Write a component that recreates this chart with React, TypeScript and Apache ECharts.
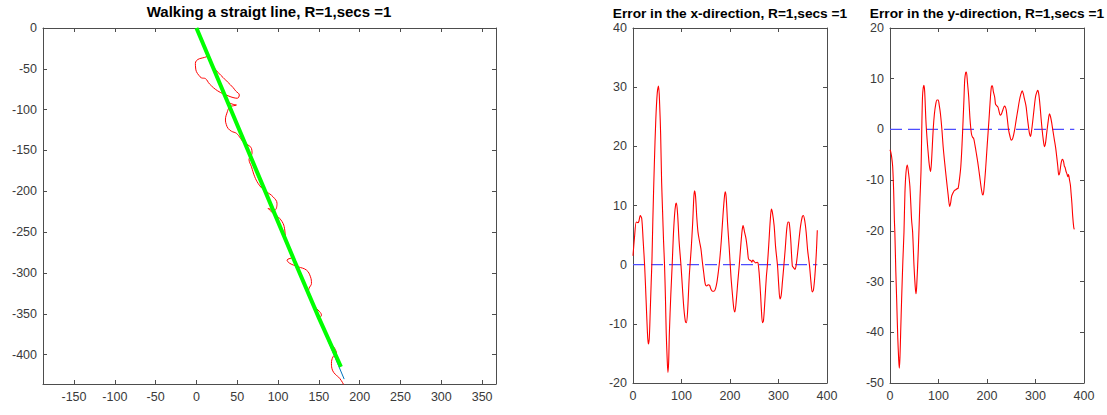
import React, { useEffect, useRef } from 'react';
import * as echarts from 'echarts';

const FONT = '"Liberation Sans", Arial, Helvetica, sans-serif';
const AXIS = '#4d4d4d';
const LABEL = '#3a3a3a';

// ---- titles ----
const titleWalk = 'Walking a straigt line, R=1,secs =1';
const titleErrX = 'Error in the x-direction, R=1,secs =1';
const titleErrY = 'Error in the y-direction, R=1,secs =1';

// ---- left plot: walked path (x, y) ----
const walkX = [-150, -100, -50, 0, 50, 100, 150, 200, 250, 300, 350];
const walkY = [0, -50, -100, -150, -200, -250, -300, -350, -400];
const truePath = [[0, 0], [181, -430]];
const estimatedPath = [[0, 0], [40, -95], [80, -190], [120, -285], [150, -355], [177, -415]];
const measuredPath = [
  [0, 0], [6, -15], [12, -28], [15, -33], [10, -36], [4, -37.5], [0, -40], [-1.3, -43.5], [-1, -49],
  [0, -53.5], [3, -58], [6, -61], [11, -62], [16, -68.5], [26, -77], [38.7, -83], [46, -85.5],
  [50.2, -86], [52.5, -82], [48, -77], [44.9, -73], [38, -66], [32.6, -60.6], [27, -55], [22.4, -49.5],
  [18.4, -44.5], [25, -60], [33, -78], [40, -91], [45, -93.5], [49, -94.3], [44, -95.5], [40.8, -96.4],
  [37.9, -102.5], [35.5, -112.7], [36.5, -118], [38.7, -122.9], [43, -126.5], [49, -129], [54, -135],
  [57.1, -139.3], [63.2, -143.3], [67.4, -147.4], [68.1, -153.5], [64.4, -160.8], [67.4, -169.9],
  [71.4, -182.2], [75.5, -190.2], [80, -196], [85.8, -200.5], [93.8, -206.7], [98.7, -214.8], [95.9, -223],
  [87.7, -220.9], [93, -226], [100, -231.2], [106.1, -239.3], [108.2, -247.5], [109, -255], [112, -268],
  [116.4, -276], [118.3, -280.2], [111, -284.2], [114.3, -288.2], [124.5, -292.4], [134.8, -296.5],
  [139.7, -304.7], [140.9, -312.8], [137.9, -318.9], [137, -325], [141, -335], [147, -343.4], [151, -347.5],
  [153.1, -351.6], [151, -355.6], [155, -365], [160, -378], [166, -388], [169.4, -392.4], [171.5, -398.5],
  [167.3, -402.7], [165.4, -410.8], [166.6, -419], [170, -424], [175.5, -429.1], [181.7, -439.4], [185, -448],
];

// ---- middle plot: error in x ----
const timeTicks = [0, 100, 200, 300, 400];
const errXTicks = [-20, -10, 0, 10, 20, 30, 40];
const errX = [
  [0, 1.5], [3, 4.5], [6.8, 7.2], [10, 7.1], [12, 7.3], [15, 8.3], [18, 7.8], [21, 4], [24, -0.2], [27, -6],
  [29.5, -11], [31.5, -13.4], [33.5, -12.5], [35.5, -8], [37.5, -3], [39, 0.5], [41, 7.8], [44, 17],
  [47, 24.5], [50, 29], [52.7, 30.2], [55, 27], [57, 22], [59, 14], [61, 9], [63, 4], [65, 0], [67, -6],
  [68.5, -11.5], [70.5, -16], [72, -18.2], [73.5, -16.5], [75, -11.5], [78, -5], [80.8, 0], [83, 4.5],
  [85.6, 8.3], [88, 10.2], [89.5, 10.4], [92, 8.5], [95, 4], [99, -0.2], [102, -4], [105, -7.5], [108, -9.6],
  [110, -9.8], [112.5, -8], [116, -2], [120, 2.7], [123, 7], [125.5, 11.5], [127, 12.5], [129, 11.5],
  [131.5, 8], [134, 5.5], [137, 4], [140, 2.7], [143, 0.5], [146, -1.5], [149, -3.3], [152, -3.6],
  [155, -3.4], [158, -3.5], [161, -4.2], [164, -4.5], [167, -4.5], [170, -4.1], [173, -3], [176, -1.2],
  [179, 1], [182, 4], [185, 7.7], [188, 11], [190, 12.3], [192, 11.5], [195, 7], [198.5, 2.7], [202, -2],
  [205, -5], [208, -7.5], [210, -8], [213, -6], [216, -3], [219, -0.2], [222, 3], [225, 5.8], [227, 6.6],
  [230, 5.5], [233, 4.4], [236, 2.5], [238, 1], [240, 0.8], [243, 0.7], [245, 0.4], [247, 0.8], [250, 0.5],
  [253, 0.3], [256.7, 0.4], [258, 0.2], [260, -1.3], [263, -5], [265, -8], [267, -9.8], [269, -9.5],
  [272, -6], [275, -2], [277, -0.2], [280, 3.5], [283, 7.5], [285.4, 9.4], [287.5, 8.8], [291, 6.6],
  [294, 3], [298, -0.2], [300.5, -3.5], [303, -5.8], [305.5, -5.2], [308, -3], [311, -0.2], [314, 2.8],
  [317, 6], [319.6, 7.2], [322, 7.1], [325, 4.5], [328.5, -0.2], [331, -0.5], [334, -0.8], [336, -0.3],
  [338.8, 1.5], [342, 4], [345.6, 6.6], [349, 8.1], [351, 8.3], [354, 7.5], [357, 5.5], [360, 2.5],
  [364, -0.2], [367, -3], [369.6, -4.6], [372, -4.3], [375, -1.9], [378, 2], [380, 5.8],
];
const zeroX = [[0, 0], [380, 0]];

// ---- right plot: error in y ----
const errYTicks = [-50, -40, -30, -20, -10, 0, 10, 20];
const errY = [
  [0, -4], [1.4, -4.4], [3.5, -5.5], [5.5, -7.3], [7.5, -12], [9, -17.8], [10, -20.3], [12, -28], [13.7, -33.4],
  [16, -41], [18, -45.5], [19.2, -47.1], [20.5, -45], [22, -40], [24, -33.4], [26.5, -26], [28.8, -20.3],
  [30.8, -12.5], [33, -8.5], [35.6, -7], [37.5, -8], [41, -11.2], [44.5, -17.8], [46.7, -20.3], [49.5, -26.9],
  [52, -31], [53.6, -32.4], [55, -31], [58.4, -23.6], [61.8, -13.8], [64, -8], [65.5, 0], [67, 6.4],
  [68.5, 8.2], [70, 8.7], [71.5, 7.5], [74, 1.8], [76.5, -2], [78.8, -4.7], [81, -7], [83.6, -8.3],
  [85.5, -6.5], [89, -0.1], [91.5, 3], [94.5, 5.1], [97, 5.8], [99.3, 5.8], [101.5, 4.8], [104, 3.1],
  [107, 0], [109.6, -3.4], [113, -6.8], [116.4, -9.9], [120, -13], [123, -15.2], [125, -14.5], [127, -13.2],
  [130, -12.5], [133, -12], [135.6, -11.9], [138, -11.7], [140.4, -11.6], [143, -10], [146, -7.3],
  [148.5, -3], [150.7, 1.8], [152.5, 6], [154, 9.7], [156, 11.2], [157.5, 11.3], [159.5, 9.5], [162.3, 6.4],
  [165, 2], [167.8, -0.8], [170, -1.5], [172.6, -1.8], [175, -3], [178, -4.7], [181, -6.5], [185, -9.3],
  [188, -11.5], [190.5, -12.8], [192, -12.9], [194, -11.5], [197, -8], [200.5, -3], [204, 1.8], [206.5, 5.5],
  [209, 8.4], [211, 8.6], [213, 7.5], [215.8, 6.4], [217.5, 5], [219, 4.8], [222.6, 4.4], [225, 3.5],
  [227.4, 2.8], [229.5, 3], [231.5, 3.5], [234, 4.2], [236, 4.6], [238, 4.4], [239.7, 3.8], [242, 2],
  [244.5, -0.1], [247, -1.2], [250, -2.1], [252.5, -1.9], [254.8, -1.1], [257.5, 0.2], [260, 1.8],
  [263.5, 3.8], [267, 5.8], [270, 7], [272.6, 7.6], [275, 7], [277, 6.1], [279, 5.3], [280.8, 4.4],
  [283, 2.5], [285.6, 0.5], [287.5, -0.8], [289.7, -1.4], [292, -0.2], [294.5, 1.8], [297, 4], [300, 6.4],
  [302.5, 7.3], [304.8, 7.7], [307, 6.8], [309.6, 4.4], [311.5, 2.2], [313.7, -0.1], [316, -2], [318.5, -3.4],
  [320.5, -2.8], [323, -0.8], [326, 1.5], [328.8, 3.1], [331, 2.5], [333.6, 1.2], [336, -0.3], [339, -2.1],
  [341.5, -3.6], [343.8, -5.4], [346, -7.3], [348, -9], [350, -8.5], [352.7, -6.7], [354.5, -6], [356, -5.9],
  [358, -6.4], [359.6, -7.3], [361, -7.5], [363, -8.3], [365, -8.8], [366.4, -9.3], [368, -8.9], [370, -9.9],
  [372, -11], [373.3, -12.5], [375, -14.5], [376.7, -17.1], [378.8, -19.3], [380, -19.7],
];
const zeroY = [[0, 0], [380, 0]];

function axisPair(gridIndex: number, min: number, max: number, ticks: number[], isX: boolean) {
  const line = { show: true, onZero: false, lineStyle: { color: AXIS, width: 1 } };
  const tick = { show: true, inside: true, length: 4, customValues: ticks, lineStyle: { color: AXIS, width: 1 } };
  const main = {
    type: 'value', gridIndex, min, max,
    position: isX ? 'bottom' : 'left',
    axisLine: line,
    axisTick: tick,
    axisLabel: {
      show: true, customValues: ticks, color: LABEL, fontSize: 12.5, fontFamily: FONT,
      margin: isX ? 6 : 6,
    },
    splitLine: { show: false },
  };
  const mirror = {
    type: 'value', gridIndex, min, max,
    position: isX ? 'top' : 'right',
    axisLine: line,
    axisTick: tick,
    axisLabel: { show: false },
    splitLine: { show: false },
  };
  return [main, mirror];
}

function titleText(text: string, x: number, y: number, size: number) {
  return {
    type: 'text', x, y,
    style: {
      text, align: 'center', verticalAlign: 'middle', fill: '#000',
      fontSize: size, fontWeight: 'bold', fontFamily: FONT,
    },
  };
}

export default function App() {
  const ref = useRef<HTMLDivElement>(null);
  useEffect(() => {
    if (!ref.current) return;
    const chart = echarts.init(ref.current, null, { renderer: 'svg' });
    const option: any = {
      animation: false,
      backgroundColor: '#fff',
      grid: [
        { left: 43, top: 28, width: 453, height: 356 },
        { left: 633, top: 28, width: 194, height: 355 },
        { left: 890, top: 28, width: 194, height: 355 },
      ],
      xAxis: [
        ...axisPair(0, -188, 367, walkX, true),
        ...axisPair(1, 0, 400, timeTicks, true),
        ...axisPair(2, 0, 400, timeTicks, true),
      ],
      yAxis: [
        ...axisPair(0, -436, 0, walkY, false),
        ...axisPair(1, -20, 40, errXTicks, false),
        ...axisPair(2, -50, 20, errYTicks, false),
      ],
      graphic: [
        titleText(titleWalk, 269, 11, 15),
        titleText(titleErrX, 730, 13, 13.7),
        titleText(titleErrY, 987, 13, 13.7),
      ],
      series: [
        {
          type: 'line', xAxisIndex: 0, yAxisIndex: 0, data: measuredPath, showSymbol: false,
          smooth: 0.4, lineStyle: { color: '#ff0000', width: 1 }, z: 2,
        },
        {
          type: 'line', xAxisIndex: 0, yAxisIndex: 0, data: truePath, showSymbol: false,
          lineStyle: { color: '#0072bd', width: 1 }, z: 3,
        },
        {
          type: 'line', xAxisIndex: 0, yAxisIndex: 0, data: estimatedPath, showSymbol: false,
          lineStyle: { color: '#00ff00', width: 4 }, z: 4,
        },
        {
          type: 'line', xAxisIndex: 2, yAxisIndex: 2, data: zeroX, showSymbol: false,
          lineStyle: { color: '#4d4dff', width: 1.3, type: [12, 6] }, z: 2,
        },
        {
          type: 'line', xAxisIndex: 2, yAxisIndex: 2, data: errX, showSymbol: false,
          smooth: 0.3, lineStyle: { color: '#ff0000', width: 1.1 }, z: 3,
        },
        {
          type: 'line', xAxisIndex: 4, yAxisIndex: 4, data: zeroY, showSymbol: false,
          lineStyle: { color: '#4d4dff', width: 1.3, type: [12, 6] }, z: 2,
        },
        {
          type: 'line', xAxisIndex: 4, yAxisIndex: 4, data: errY, showSymbol: false,
          smooth: 0.3, lineStyle: { color: '#ff0000', width: 1.1 }, z: 3,
        },
      ],
    };
    chart.setOption(option);
    return () => chart.dispose();
  }, []);
  return (
    <div
      ref={ref}
      style={{ position: 'absolute', left: 0, top: 0, width: 1107, height: 415, background: '#fff' }}
    />
  );
}
